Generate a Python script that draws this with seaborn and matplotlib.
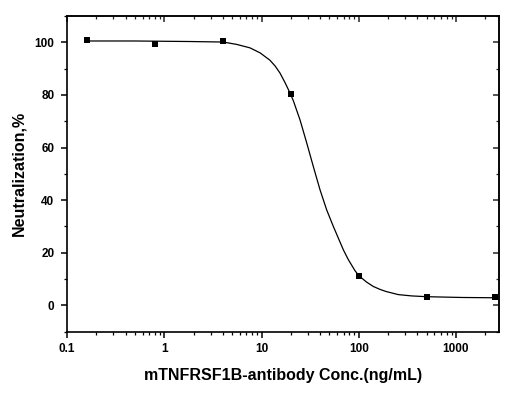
import numpy as np
import pandas as pd
import matplotlib
matplotlib.use('Agg')
import matplotlib.pyplot as plt
import matplotlib.ticker as mticker
import seaborn as sns

# measured points
conc = [0.16, 0.8, 4, 20, 100, 500, 2500]
neutralization = [100.8, 99.3, 100.5, 80.4, 11.2, 3.3, 3.0]

# fitted curve
curve_conc = [0.16, 0.5, 1.84, 4.05, 5.56, 7.6, 9.66, 12.2, 13.8, 15.5, 17.5, 19.6,
              21.2, 24.9, 29.2, 34.1, 40, 46.8, 54.8, 69.5, 78.1, 91.5, 100,
              120, 141, 165, 190, 255, 350, 500, 1175, 2500]
curve_val = [100.5, 100.5, 100.3, 100.1, 99.2, 97.9, 96.0, 93.2, 91.0, 88.3, 84.6, 80.8,
             77.9, 70.5, 61.7, 52.8, 43.9, 36.3, 30.0, 21.1, 17.4, 13.2, 11.3,
             8.9, 7.2, 6.1, 5.3, 4.1, 3.6, 3.3, 3.0, 2.9]

df_pts = pd.DataFrame({'conc': conc, 'val': neutralization})
df_fit = pd.DataFrame({'conc': curve_conc, 'val': curve_val})

sns.set_theme(style='ticks')
plt.rcParams['font.family'] = ['Liberation Sans', 'DejaVu Sans']
plt.rcParams['text.color'] = 'black'
plt.rcParams['axes.labelcolor'] = 'black'

fig = plt.figure(figsize=(5.32, 3.97), dpi=100)
ax = fig.add_axes([0.126, 0.1645, 0.8114, 0.7952])

sns.lineplot(data=df_fit, x='conc', y='val', ax=ax, color='black', lw=0.9)
sns.scatterplot(data=df_pts, x='conc', y='val', ax=ax, marker='s', color='black',
                s=24, edgecolor='black', linewidth=0, zorder=5, clip_on=False)

ax.set_xscale('log')
ax.set_xlim(0.1, 2750)
ax.set_ylim(-10, 110)
ax.xaxis.set_major_locator(mticker.LogLocator(base=10, numticks=10))
ax.xaxis.set_minor_locator(mticker.LogLocator(base=10, subs=np.arange(2, 10), numticks=10))
ax.xaxis.set_major_formatter(mticker.FuncFormatter(lambda v, p: f'{v:g}'))
ax.xaxis.set_minor_formatter(mticker.NullFormatter())
ax.yaxis.set_major_locator(mticker.MultipleLocator(20))
ax.yaxis.set_minor_locator(mticker.MultipleLocator(10))

for sp in ax.spines.values():
    sp.set_visible(True)
    sp.set_linewidth(1.2)
    sp.set_color('black')

ax.tick_params(which='major', direction='out', length=4.2, width=1.1, colors='black',
               labelsize=8.5)
ax.tick_params(axis='y', which='major', pad=5)
ax.tick_params(axis='x', which='major', pad=4)
ax.tick_params(which='minor', direction='out', length=2.3, width=0.9, colors='black')
for lab in ax.get_xticklabels() + ax.get_yticklabels():
    lab.set_fontweight('bold')

# mirrored ticks on top and right, pointing inward
top = ax.secondary_xaxis('top')
top.xaxis.set_major_locator(mticker.LogLocator(base=10, numticks=10))
top.xaxis.set_minor_locator(mticker.LogLocator(base=10, subs=np.arange(2, 10), numticks=10))
top.tick_params(which='major', direction='in', length=4.2, width=1.1, labeltop=False)
top.tick_params(which='minor', direction='in', length=2.3, width=0.9)
top.spines['top'].set_linewidth(1.2)

right = ax.secondary_yaxis('right')
right.yaxis.set_major_locator(mticker.MultipleLocator(20))
right.yaxis.set_minor_locator(mticker.MultipleLocator(10))
right.tick_params(which='major', direction='in', length=4.2, width=1.1, labelright=False)
right.tick_params(which='minor', direction='in', length=2.3, width=0.9)
right.spines['right'].set_linewidth(1.2)

ax.set_xlabel('mTNFRSF1B-antibody Conc.(ng/mL)', fontsize=11.5, fontweight='bold', labelpad=9)
ax.set_ylabel('Neutralization,%', fontsize=11.5, fontweight='bold', labelpad=6)

fig.savefig('out.png', dpi=100)
